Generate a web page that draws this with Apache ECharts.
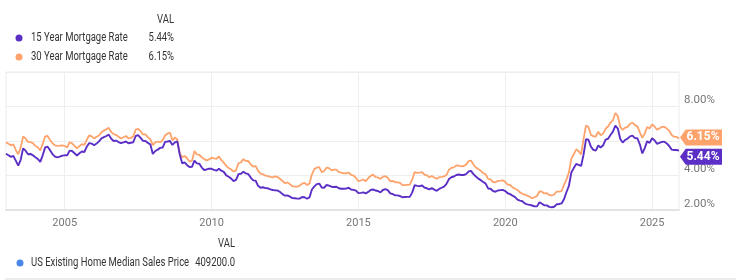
<!DOCTYPE html>
<html>
<head>
<meta charset="utf-8">
<script src="https://cdn.jsdelivr.net/npm/echarts@6/dist/echarts.min.js"></script>
<style>
html,body{margin:0;padding:0;background:#fff;}
#chart{width:736px;height:280px;}
</style>
</head>
<body>
<div id="chart"></div>
<script>
// ---- data ----
const startYear = 2003;
const endYear = 2025;
const seriesNames = ['15 Year Mortgage Rate', '30 Year Mortgage Rate'];
const legendValues = ['5.44%', '6.15%'];
const bottomSeriesName = 'US Existing Home Median Sales Price';
const bottomLegendValue = '409200.0';
const yTicks = [2, 4, 6, 8, 10];

// monthly, Jan..Dec for each year 2003..2025
const rate30 = [
  5.92,5.84,5.75,5.81,5.48,5.23,5.63,6.26,6.15,5.95,5.93,5.88,
  5.71,5.64,5.45,5.83,6.27,6.29,6.06,5.87,5.75,5.72,5.73,5.75,
  5.71,5.63,5.93,5.86,5.72,5.58,5.70,5.82,5.77,6.07,6.33,6.27,
  6.15,6.25,6.32,6.51,6.60,6.68,6.76,6.52,6.40,6.36,6.24,6.14,
  6.22,6.29,6.16,6.18,6.26,6.66,6.70,6.57,6.38,6.38,6.21,6.10,
  5.76,5.92,5.97,5.92,6.04,6.32,6.43,6.48,6.04,6.20,6.09,5.29,
  5.06,5.13,5.00,4.81,4.86,5.42,5.22,5.19,5.06,4.95,4.88,4.93,
  5.03,4.99,4.97,5.10,4.89,4.74,4.56,4.43,4.35,4.23,4.30,4.71,
  4.76,4.95,4.84,4.84,4.64,4.51,4.55,4.27,4.11,4.07,3.99,3.96,
  3.92,3.89,3.95,3.91,3.80,3.68,3.55,3.60,3.50,3.38,3.35,3.35,
  3.41,3.53,3.57,3.45,3.54,4.07,4.37,4.46,4.49,4.19,4.26,4.46,
  4.43,4.30,4.34,4.34,4.19,4.16,4.13,4.12,4.16,4.04,4.00,3.86,
  3.67,3.71,3.77,3.67,3.84,3.98,4.05,3.91,3.89,3.80,3.94,3.96,
  3.87,3.66,3.69,3.61,3.60,3.57,3.44,3.44,3.46,3.47,3.77,4.20,
  4.15,4.17,4.20,4.05,4.01,3.90,3.97,3.88,3.81,3.90,3.92,3.95,
  4.03,4.33,4.44,4.47,4.59,4.57,4.53,4.55,4.63,4.83,4.87,4.64,
  4.46,4.37,4.27,4.14,4.07,3.80,3.77,3.62,3.61,3.69,3.70,3.72,
  3.62,3.47,3.45,3.31,3.23,3.16,3.02,2.94,2.89,2.83,2.77,2.68,
  2.74,2.81,3.08,3.06,2.96,2.98,2.87,2.84,2.90,3.07,3.07,3.10,
  3.45,3.76,4.17,4.98,5.23,5.52,5.41,5.22,6.11,6.90,6.81,6.36,
  6.27,6.26,6.54,6.34,6.43,6.71,6.84,7.07,7.20,7.62,7.44,6.82,
  6.64,6.78,6.82,7.00,7.06,6.92,6.85,6.50,6.18,6.43,6.81,6.72,
  6.96,6.84,6.65,6.73,6.82,6.82,6.72,6.59,6.35,6.25,6.24,6.15
];
const rate15 = [
  5.26,5.17,5.08,5.14,4.86,4.57,4.91,5.57,5.44,5.23,5.25,5.17,
  5.06,4.96,4.79,5.17,5.63,5.67,5.47,5.24,5.09,5.05,5.09,5.15,
  5.17,5.17,5.44,5.42,5.29,5.16,5.29,5.39,5.36,5.67,5.88,5.85,
  5.75,5.85,5.98,6.15,6.22,6.29,6.37,6.13,6.00,6.02,5.94,5.88,
  5.92,5.97,5.87,5.90,5.93,6.29,6.34,6.18,6.01,6.00,5.89,5.80,
  5.25,5.42,5.50,5.60,5.62,5.95,5.97,6.00,5.77,5.92,5.98,5.22,
  4.71,4.76,4.60,4.49,4.50,4.86,4.70,4.68,4.46,4.32,4.35,4.40,
  4.39,4.33,4.28,4.39,4.28,4.21,4.01,3.93,3.82,3.68,3.74,4.08,
  4.10,4.22,4.12,4.08,3.88,3.72,3.70,3.40,3.29,3.32,3.27,3.26,
  3.20,3.16,3.14,3.13,3.04,2.92,2.83,2.85,2.78,2.69,2.68,2.66,
  2.66,2.75,2.74,2.65,2.73,3.19,3.37,3.50,3.53,3.30,3.29,3.45,
  3.41,3.35,3.33,3.35,3.26,3.23,3.23,3.24,3.29,3.19,3.17,3.12,
  2.98,2.99,3.02,2.96,3.05,3.16,3.19,3.13,3.10,3.02,3.16,3.21,
  3.15,2.96,2.93,2.85,2.85,2.81,2.74,2.75,2.76,2.76,3.02,3.44,
  3.40,3.38,3.42,3.30,3.26,3.20,3.27,3.18,3.11,3.22,3.29,3.36,
  3.52,3.79,3.90,3.94,4.03,4.06,4.03,4.03,4.08,4.23,4.27,4.08,
  3.94,3.82,3.73,3.62,3.53,3.25,3.23,3.10,3.06,3.13,3.15,3.16,
  3.10,2.97,2.92,2.83,2.75,2.60,2.54,2.51,2.38,2.33,2.30,2.26,
  2.21,2.21,2.45,2.36,2.27,2.27,2.18,2.16,2.19,2.33,2.35,2.38,
  2.62,3.03,3.39,4.17,4.43,4.67,4.62,4.55,5.21,6.10,6.07,5.67,
  5.49,5.44,5.74,5.62,5.75,6.08,6.13,6.35,6.54,6.90,6.72,6.12,
  5.91,6.06,6.14,6.27,6.31,6.17,6.16,5.81,5.28,5.59,5.99,5.89,
  6.16,6.04,5.84,5.89,5.95,5.96,5.86,5.71,5.50,5.48,5.48,5.44
];

// month categories
const months = [];
for (let y = startYear; y <= endYear; y++) {
  for (let m = 1; m <= 12; m++) months.push(y + '-' + (m < 10 ? '0' + m : m));
}
const isTickMonth = (v) => v.endsWith('-01') && (+v.slice(0, 4)) % 5 === 0;

const FONT = "Roboto, 'Noto Sans', sans-serif";
const C15 = '#5b2fc6';
const C30 = '#fda36b';
const CBLUE = '#4a86e8';
const SX = 0.79; // condensed look

function endMark(val, color, dy) {
  return {
    symbol: 'path://M0,8 L6,0 L44,0 L44,16 L6,16 Z',
    symbolSize: [42, 16],
    symbolKeepAspect: false,
    silent: true,
    label: {
      show: true, position: 'inside', offset: [2, 0],
      color: '#fff', fontFamily: FONT, fontSize: 12, fontWeight: 'bold',
      formatter: (p) => p.value.toFixed(2) + '%'
    },
    itemStyle: { color: color },
    data: [{ coord: [months[months.length - 1], val], value: val, symbolOffset: [22, dy] }]
  };
}

function txt(x, y, text, align) {
  return {
    type: 'text', x: x, y: y, scaleX: SX, silent: true,
    style: { text: text, fontFamily: FONT, fontSize: 12, fill: '#333', align: align, verticalAlign: 'middle' }
  };
}
function dot(x, y, color) {
  return { type: 'circle', shape: { cx: x, cy: y, r: 3.5 }, style: { fill: color }, silent: true };
}

const chart = echarts.init(document.getElementById('chart'), null, { renderer: 'canvas' });

chart.setOption({
  animation: false,
  backgroundColor: '#fff',
  grid: { left: 6, right: 57, top: 72, bottom: 70, show: true, borderColor: '#ececec', borderWidth: 1 },
  graphic: [
    txt(174, 20, 'VAL', 'right'),
    dot(19, 38, C15), txt(31, 38, seriesNames[0], 'left'), txt(174, 38, legendValues[0], 'right'),
    dot(19, 57, C30), txt(31, 57, seriesNames[1], 'left'), txt(174, 57, legendValues[1], 'right'),
    txt(235, 244, 'VAL', 'right'),
    dot(20, 263, CBLUE), txt(31, 263, bottomSeriesName, 'left'), txt(235, 263, bottomLegendValue, 'right'),
    { type: 'rect', shape: { x: 5, y: 278, width: 731, height: 2 }, style: { fill: '#ececec' }, silent: true }
  ],
  xAxis: {
    type: 'category', data: months, boundaryGap: false,
    axisLine: { show: true, lineStyle: { color: '#e3e3e3', width: 2 } },
    axisTick: { show: false },
    axisLabel: {
      interval: (i, v) => isTickMonth(v), formatter: (v) => v.slice(0, 4),
      color: '#777', fontFamily: FONT, fontSize: 11, margin: 8
    },
    splitLine: { show: true, interval: (i, v) => isTickMonth(v), lineStyle: { color: '#eeeeee' } }
  },
  yAxis: {
    type: 'value', position: 'right', min: yTicks[0], max: yTicks[yTicks.length - 1], interval: 2,
    axisLine: { show: false }, axisTick: { show: false },
    axisLabel: {
      showMaxLabel: false, formatter: (v) => v.toFixed(2) + '%',
      color: '#777', fontFamily: FONT, fontSize: 11.5, margin: 5,
      verticalAlign: 'bottom', lineHeight: 12
    },
    splitLine: { lineStyle: { color: '#eeeeee' } }
  },
  series: [
    {
      name: seriesNames[1], type: 'line', data: rate30, showSymbol: false, symbol: 'none',
      lineStyle: { color: C30, width: 1.8 }, itemStyle: { color: C30 }, z: 2,
      markPoint: endMark(rate30[rate30.length - 1], C30, -1)
    },
    {
      name: seriesNames[0], type: 'line', data: rate15, showSymbol: false, symbol: 'none',
      lineStyle: { color: C15, width: 1.9 }, itemStyle: { color: C15 }, z: 3,
      markPoint: endMark(rate15[rate15.length - 1], C15, 6)
    }
  ]
});
</script>
</body>
</html>
